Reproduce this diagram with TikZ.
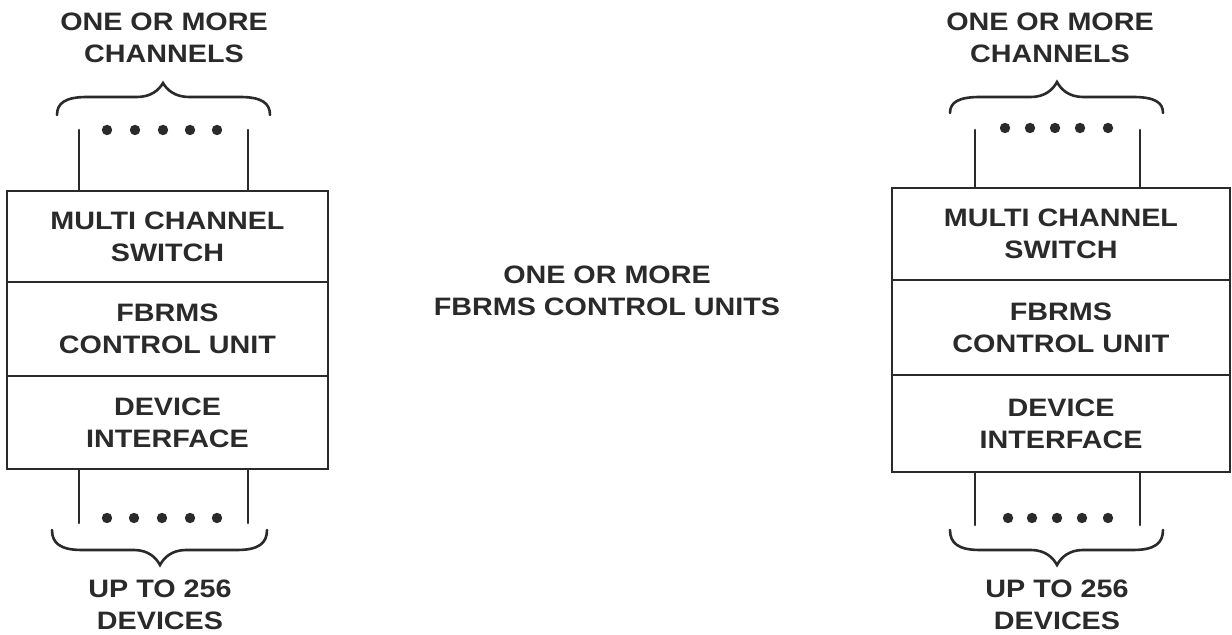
\documentclass[tikz,border=0pt]{standalone}
\usepackage{fontspec}
\newfontfamily\lblfont[FakeStretch=1.14]{Liberation Sans}
\definecolor{ink}{HTML}{2A2A2A}
\newcommand{\mybrace}[6]{% #1 left x, #2 right x, #3 tip x, #4 end y, #5 bar y, #6 tip y
  \draw[ln] (#1,#4) .. controls (#1,{#5+(#4-#5)*0.35}) and ({#1+8},#5) .. ({#1+30},#5) -- ({#3-26},#5)
    .. controls ({#3-12},#5) and ({#3-4},{(#5+#6)/2}) .. (#3,#6)
    .. controls ({#3+4},{(#5+#6)/2}) and ({#3+12},#5) .. ({#3+26},#5)
    -- ({#2-30},#5) .. controls ({#2-8},#5) and (#2,{#5+(#4-#5)*0.35}) .. (#2,#4);}
\tikzset{
  lbl/.style={font=\lblfont\bfseries\fontsize{12.6}{16}\selectfont, align=center, inner sep=0pt, text=ink},
  cell/.style={draw=ink, line width=1.3pt, lbl},
  ln/.style={draw=ink, line width=1.3pt, line cap=round},
}
\begin{document}
\begin{tikzpicture}[x=0.5pt,y=-0.5pt]
\useasboundingbox (0,0) rectangle (1232,635);
% ---------- left unit ----------
\node[lbl] (ltxt) at (164,37.5) {ONE OR MORE\\CHANNELS};
\node[cell, minimum width=160.5pt, minimum height=45.5pt] (lms) at (167.5,236.5) {MULTI CHANNEL\\SWITCH};
\node[cell, minimum width=160.5pt, minimum height=47pt] (lcu) at (167.5,329) {FBRMS\\CONTROL UNIT};
\node[cell, minimum width=160.5pt, minimum height=46.5pt] (ldi) at (167.5,422.5) {DEVICE\\INTERFACE};
\node[lbl] (lbtxt) at (160,604.5) {UP TO 256\\DEVICES};
\coordinate (ltA) at (79,130);
\coordinate (ltB) at (248,130);
\coordinate (lbA) at (79,523);
\coordinate (lbB) at (248,523);
\draw[ln] (ltA) -- (ltA |- lms.north);
\draw[ln] (ltB) -- (ltB |- lms.north);
\draw[ln] (lbA |- ldi.south) -- (lbA);
\draw[ln] (lbB |- ldi.south) -- (lbB);
\foreach \x in {107,135,163,190,217} \fill[ink] (\x,130) circle (2.6pt);
\foreach \x in {107,134,162,190,217} \fill[ink] (\x,518) circle (2.6pt);
\mybrace{57}{270}{163}{115}{97}{83}
\mybrace{52}{267}{160}{530}{550}{565}
% ---------- middle ----------
\node[lbl] (mid) at (607,291) {ONE OR MORE\\FBRMS CONTROL UNITS};
% ---------- right unit ----------
\node[lbl] (rtxt) at (1050,37.5) {ONE OR MORE\\CHANNELS};
\node[cell, minimum width=169pt, minimum height=46pt] (rms) at (1061,234) {MULTI CHANNEL\\SWITCH};
\node[cell, minimum width=169pt, minimum height=47.5pt] (rcu) at (1061,327.5) {FBRMS\\CONTROL UNIT};
\node[cell, minimum width=169pt, minimum height=48.5pt] (rdi) at (1061,423.5) {DEVICE\\INTERFACE};
\node[lbl] (rbtxt) at (1057,604.5) {UP TO 256\\DEVICES};
\coordinate (rtA) at (975,130);
\coordinate (rtB) at (1140,130);
\coordinate (rbA) at (975,525);
\coordinate (rbB) at (1140,525);
\draw[ln] (rtA) -- (rtA |- rms.north);
\draw[ln] (rtB) -- (rtB |- rms.north);
\draw[ln] (rbA |- rdi.south) -- (rbA);
\draw[ln] (rbB |- rdi.south) -- (rbB);
\foreach \x in {1005,1030,1055,1080,1108} \fill[ink] (\x,128) circle (2.6pt);
\foreach \x in {1008,1032,1057,1082,1108} \fill[ink] (\x,518) circle (2.6pt);
\mybrace{950}{1163}{1057}{113}{97}{82}
\mybrace{950}{1163}{1057}{530}{550}{565}
\end{tikzpicture}
\end{document}
